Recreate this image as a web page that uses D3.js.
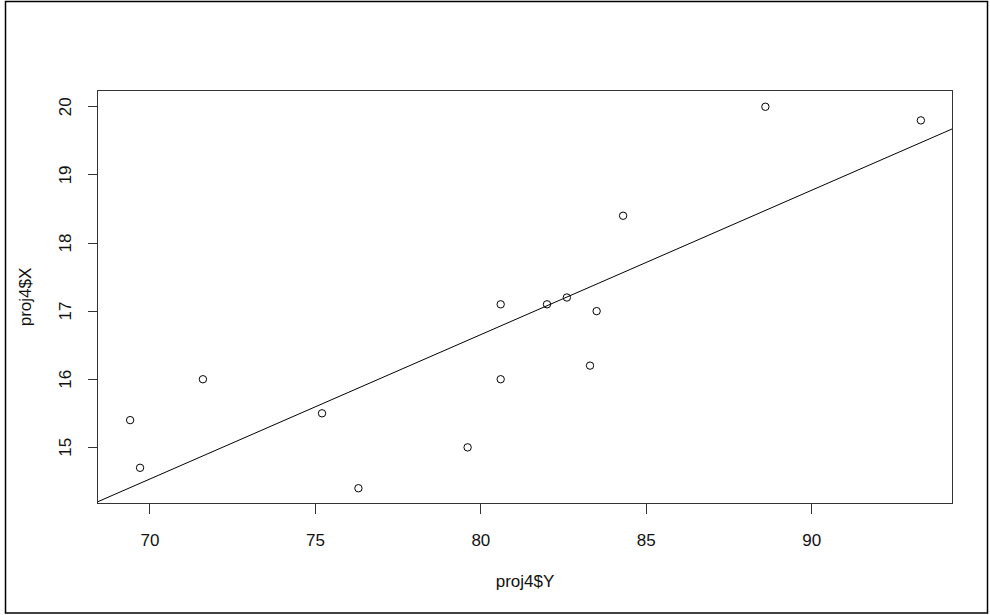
<!DOCTYPE html>
<html>
<head>
<meta charset="utf-8">
<script src="https://cdn.jsdelivr.net/npm/d3@7"></script>
<style>
  body { margin: 0; background: #fff; }
  svg { display: block; font-family: "Liberation Sans", Arial, sans-serif; }
</style>
</head>
<body>
<svg id="chart" width="990" height="615"></svg>
<script>
// proj4$Y (horizontal) and proj4$X (vertical)
const projY = [69.4, 69.7, 71.6, 75.2, 76.3, 79.6, 80.6, 80.6, 82.0, 82.6, 83.5, 83.3, 84.3, 88.6, 93.3];
const projX = [15.4, 14.7, 16.0, 15.5, 14.4, 15.0, 17.1, 16.0, 17.1, 17.2, 17.0, 16.2, 18.4, 20.0, 19.8];
const xTicks = [70, 75, 80, 85, 90];
const yTicks = [15, 16, 17, 18, 19, 20];

const svg = d3.select("#chart");
const boxL = 98, boxT = 91, boxR = 952, boxB = 503;

// R style 4% padding around data range
function pad(ext) {
  const d = (ext[1] - ext[0]) * 0.04;
  return [ext[0] - d, ext[1] + d];
}

const x = d3.scaleLinear().domain(pad(d3.extent(projY))).range([boxL, boxR]);
const y = d3.scaleLinear().domain(pad(d3.extent(projX))).range([boxB, boxT]);

// outer frame
svg.append("rect")
  .attr("x", 5.5).attr("y", 1.5)
  .attr("width", 982).attr("height", 611.5)
  .attr("fill", "none").attr("stroke", "#000").attr("stroke-width", 1.5);

svg.append("clipPath").attr("id", "clip")
  .append("rect").attr("x", boxL).attr("y", boxT)
  .attr("width", boxR - boxL).attr("height", boxB - boxT);

// least squares fit of X on Y
const mx = d3.mean(projY), my = d3.mean(projX);
const slope = d3.sum(projY, (v, i) => (v - mx) * (projX[i] - my)) /
              d3.sum(projY, (v) => (v - mx) * (v - mx));
const icpt = my - slope * mx;
const [d0, d1] = x.domain();

svg.append("line")
  .attr("clip-path", "url(#clip)")
  .attr("x1", x(d0)).attr("y1", y(icpt + slope * d0))
  .attr("x2", x(d1)).attr("y2", y(icpt + slope * d1))
  .attr("stroke", "#000").attr("stroke-width", 1);

svg.selectAll("circle.pt")
  .data(projY)
  .join("circle")
  .attr("class", "pt")
  .attr("cx", (d) => x(d) + 0.5)
  .attr("cy", (d, i) => y(projX[i]) + 0.5)
  .attr("r", 3.7)
  .attr("fill", "none")
  .attr("stroke", "#000")
  .attr("stroke-width", 1);

// x axis
const xAxis = svg.append("g")
  .attr("transform", `translate(0,${boxB + 0.5})`)
  .call(d3.axisBottom(x).tickValues(xTicks).tickFormat(d3.format("d"))
    .tickSize(10).tickSizeOuter(0).tickPadding(20));
xAxis.select(".domain").remove();
xAxis.selectAll("line").attr("stroke", "#333").attr("shape-rendering", "crispEdges");
xAxis.selectAll("text").attr("font-size", 17).attr("fill", "#111")
  .attr("font-family", "Liberation Sans, Arial, sans-serif");

// y axis
const yAxis = svg.append("g")
  .attr("transform", `translate(${boxL - 0.5},0)`)
  .call(d3.axisLeft(y).tickValues(yTicks).tickFormat(d3.format("d"))
    .tickSize(10).tickSizeOuter(0));
yAxis.select(".domain").remove();
yAxis.selectAll("line").attr("stroke", "#333").attr("shape-rendering", "crispEdges");
yAxis.selectAll("text")
  .attr("x", null).attr("dy", null)
  .attr("text-anchor", "middle")
  .attr("dominant-baseline", "central")
  .attr("transform", "translate(-32,0) rotate(-90)")
  .attr("font-size", 17).attr("fill", "#111")
  .attr("font-family", "Liberation Sans, Arial, sans-serif");

// plot box
svg.append("rect")
  .attr("x", boxL - 0.5).attr("y", boxT - 0.5)
  .attr("width", boxR - boxL + 1).attr("height", boxB - boxT + 1)
  .attr("fill", "none").attr("stroke", "#333").attr("stroke-width", 1)
  .attr("shape-rendering", "crispEdges");

// axis titles
svg.append("text")
  .attr("x", (boxL + boxR) / 2).attr("y", 587)
  .attr("text-anchor", "middle").attr("font-size", 17).attr("fill", "#111")
  .text("proj4$Y");

svg.append("text")
  .attr("transform", `translate(31,${(boxT + boxB) / 2}) rotate(-90)`)
  .attr("text-anchor", "middle").attr("font-size", 17).attr("fill", "#111")
  .text("proj4$X");
</script>
</body>
</html>
